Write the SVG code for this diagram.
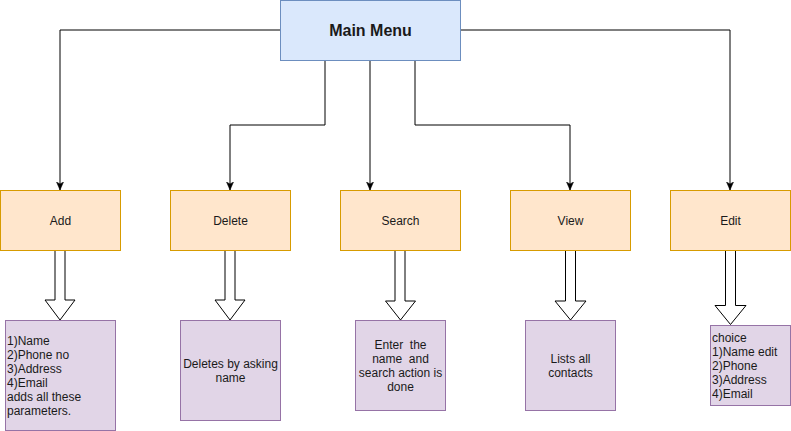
<svg xmlns="http://www.w3.org/2000/svg" width="791" height="431" viewBox="0 0 791 431">
<style>
text{font-family:"Liberation Sans",Arial,Helvetica,sans-serif;font-size:12px;fill:#1a1a1a}
.main{fill:#dae8fc;stroke:#6c8ebf;stroke-width:1}
.op{fill:#ffe6cc;stroke:#d79b00;stroke-width:1}
.desc{fill:#e1d5e7;stroke:#9673a6;stroke-width:1}
.conn{fill:none;stroke:#000;stroke-width:1}
.blk{fill:#fff;stroke:#000;stroke-width:1;stroke-linejoin:miter}
.c{text-anchor:middle}
</style>
<defs>
<marker id="arr" markerUnits="userSpaceOnUse" markerWidth="10" markerHeight="10" refX="8" refY="4" orient="auto">
<path d="M0,0.5 L8,4 L0,7.5 L2,4 z" fill="#000" stroke="#000" stroke-width="0.5"/>
</marker>
</defs>
<rect width="791" height="431" fill="#fff"/>
<g id="connectors">
<polyline class="conn" points="280,30 60,30 60,190" marker-end="url(#arr)"/>
<polyline class="conn" points="325,60 325,125 230,125 230,190" marker-end="url(#arr)"/>
<polyline class="conn" points="370,60 370,190" marker-end="url(#arr)"/>
<polyline class="conn" points="415,60 415,125 570,125 570,190" marker-end="url(#arr)"/>
<polyline class="conn" points="460,30 730,30 730,190" marker-end="url(#arr)"/>
<polygon class="blk" points="55,250 65,250 65,300 75,300 60,320 45,300 55,300"/>
<polygon class="blk" points="225,250 235,250 235,300 245,300 230,320 215,300 225,300"/>
<polygon class="blk" points="395,250 405,250 405,301 415.5,301 400.5,320 385.5,301 395,301"/>
<polygon class="blk" points="565.5,250 575.5,250 575.5,301 586,301 570.5,320 555,301 565.5,301"/>
<polygon class="blk" points="725.5,250 735.5,250 735.5,305.5 746,305.5 730.5,324.5 715,305.5 725.5,305.5"/>
</g>
<g id="main-menu">
<rect class="main" x="280.5" y="0.5" width="180" height="60"/>
<text class="c" x="370.5" y="36" style="font-size:16px;font-weight:bold">Main Menu</text>
</g>
<g id="add">
<rect class="op" x="0.5" y="190.5" width="120" height="60"/>
<text class="c" x="60.5" y="225">Add</text>
</g>
<g id="delete">
<rect class="op" x="170.5" y="190.5" width="120" height="60"/>
<text class="c" x="230.5" y="225">Delete</text>
</g>
<g id="search">
<rect class="op" x="340.5" y="190.5" width="120" height="60"/>
<text class="c" x="400.5" y="225">Search</text>
</g>
<g id="view">
<rect class="op" x="510.5" y="190.5" width="120" height="60"/>
<text class="c" x="570.5" y="225">View</text>
</g>
<g id="edit">
<rect class="op" x="670.5" y="190.5" width="120" height="60"/>
<text class="c" x="730.5" y="225">Edit</text>
</g>
<g id="add-desc">
<rect class="desc" x="5.5" y="320.5" width="110" height="110"/>
<text x="7" y="345">1)Name</text>
<text x="7" y="359">2)Phone no</text>
<text x="7" y="373">3)Address</text>
<text x="7" y="387">4)Email</text>
<text x="7" y="401">adds all these</text>
<text x="7" y="415">parameters.</text>
</g>
<g id="delete-desc">
<rect class="desc" x="180.5" y="320.5" width="100" height="100"/>
<text class="c" x="230.5" y="368">Deletes by asking</text>
<text class="c" x="230.5" y="382">name</text>
</g>
<g id="search-desc">
<rect class="desc" x="355.5" y="320.5" width="90" height="90"/>
<text class="c" x="400.5" y="349" xml:space="preserve">Enter  the</text>
<text class="c" x="400.5" y="363" xml:space="preserve">name  and</text>
<text class="c" x="400.5" y="377">search action is</text>
<text class="c" x="400.5" y="391">done</text>
</g>
<g id="view-desc">
<rect class="desc" x="525.5" y="320.5" width="90" height="90"/>
<text class="c" x="570.5" y="363">Lists all</text>
<text class="c" x="570.5" y="377">contacts</text>
</g>
<g id="edit-desc">
<rect class="desc" x="710.5" y="325.5" width="80" height="80"/>
<text x="712" y="342">choice</text>
<text x="712" y="356">1)Name edit</text>
<text x="712" y="370">2)Phone</text>
<text x="712" y="384">3)Address</text>
<text x="712" y="398">4)Email</text>
</g>
</svg>
